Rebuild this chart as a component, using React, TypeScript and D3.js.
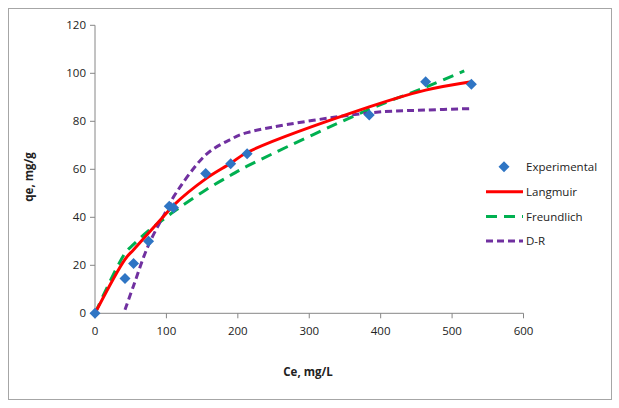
import React from "react";
import * as d3 from "d3";

const expX = [0, 42, 54, 75, 104, 110, 155, 190, 213, 384, 463, 527];
const expY = [0, 14.5, 20.8, 30, 44.6, 44, 58.3, 62.3, 66.5, 82.6, 96.5, 95.4];

const langX = [0, 42, 54, 75, 104, 110, 155, 190, 213, 384, 463, 527];
const langY = [0, 22.5, 26.5, 33.5, 43, 45, 56, 62.5, 67, 86, 93, 96.5];

const freX = [0, 42, 54, 75, 104, 110, 155, 190, 213, 384, 463, 517];
const freY = [0, 25, 28.7, 34.4, 41, 42.3, 51.4, 57.5, 61.3, 85, 94.2, 101];

const drX = [42, 54, 75, 104, 110, 155, 190, 213, 384, 463, 527];
const drY = [1.5, 11.5, 28.5, 45, 48.5, 66, 72.5, 75.3, 83.5, 84.7, 85.3];

const xTicks = [0, 100, 200, 300, 400, 500, 600];
const yTicks = [0, 20, 40, 60, 80, 100, 120];

const legendItems = ["Experimental", "Langmuir", "Freundlich", "D-R"];

export default function App() {
  const W = 619, H = 408;
  const x = d3.scaleLinear().domain([0, 600]).range([95, 523.5]);
  const y = d3.scaleLinear().domain([0, 120]).range([313.3, 25.3]);
  const line = d3
    .line<[number, number]>()
    .x((d) => x(d[0]))
    .y((d) => y(d[1]))
    .curve(d3.curveCatmullRom.alpha(0.5));
  const zip = (a: number[], b: number[]) => a.map((v, i) => [v, b[i]] as [number, number]);
  const font = "'Open Sans', sans-serif";
  const axisColor = "#868686";
  const blue = "#2F75C4";
  const diamond = (cx: number, cy: number, r: number) =>
    `M${cx},${cy - r}L${cx + r},${cy}L${cx},${cy + r}L${cx - r},${cy}Z`;

  const legY = [166.7, 191.7, 216.5, 241];
  return (
    <svg width={W} height={H} style={{ position: "absolute", left: 0, top: 0 }} fontFamily={font}>
      <rect x={0} y={0} width={W} height={H} fill="#fff" />
      <rect x={8.5} y={8.5} width={603} height={391} fill="none" stroke="#A6A6A6" strokeWidth={1} />
      {/* axes */}
      <line x1={x(0)} x2={x(0)} y1={y(120)} y2={y(0)} stroke={axisColor} />
      <line x1={x(0)} x2={x(600)} y1={y(0)} y2={y(0)} stroke={axisColor} />
      {yTicks.map((t) => (
        <g key={"y" + t}>
          <line x1={x(0) - 5} x2={x(0)} y1={y(t)} y2={y(t)} stroke={axisColor} />
          <text x={x(0) - 9} y={y(t)} dy="0.35em" textAnchor="end" fontSize={11.5} fill="#222">
            {t}
          </text>
        </g>
      ))}
      {xTicks.map((t) => (
        <g key={"x" + t}>
          <line x1={x(t)} x2={x(t)} y1={y(0)} y2={y(0) + 5} stroke={axisColor} />
          <text x={x(t)} y={y(0) + 18} dy="0.35em" textAnchor="middle" fontSize={11.5} fill="#222">
            {t}
          </text>
        </g>
      ))}
      <text x={308} y={372} dy="0.35em" textAnchor="middle" fontSize={11.5} fontWeight="bold" fill="#222">
        Ce, mg/L
      </text>
      <text
        transform={`translate(29,${177}) rotate(-90)`}
        dy="0.35em"
        textAnchor="middle"
        fontSize={11.5}
        fontWeight="bold"
        fill="#222"
      >
        qe, mg/g
      </text>
      {/* series */}
      <path d={line(zip(freX, freY)) || ""} fill="none" stroke="#00B050" strokeWidth={3} strokeDasharray="11,7" />
      <path d={line(zip(drX, drY)) || ""} fill="none" stroke="#7030A0" strokeWidth={3} strokeDasharray="7,4" />
      <path d={line(zip(langX, langY)) || ""} fill="none" stroke="#FF0000" strokeWidth={3} />
      {expX.map((v, i) => (
        <path key={"e" + i} d={diamond(x(v), y(expY[i]), 5.5)} fill={blue} />
      ))}
      {/* legend */}
      <path d={diamond(504, legY[0], 5.5)} fill={blue} />
      <line x1={486} x2={523} y1={legY[1]} y2={legY[1]} stroke="#FF0000" strokeWidth={3} />
      <line x1={486} x2={523} y1={legY[2]} y2={legY[2]} stroke="#00B050" strokeWidth={3} strokeDasharray="11,7" />
      <line x1={486} x2={523} y1={legY[3]} y2={legY[3]} stroke="#7030A0" strokeWidth={3} strokeDasharray="7,4" />
      {legendItems.map((s, i) => (
        <text key={s} x={526} y={legY[i]} dy="0.35em" fontSize={11.5} fill="#222">
          {s}
        </text>
      ))}
    </svg>
  );
}
